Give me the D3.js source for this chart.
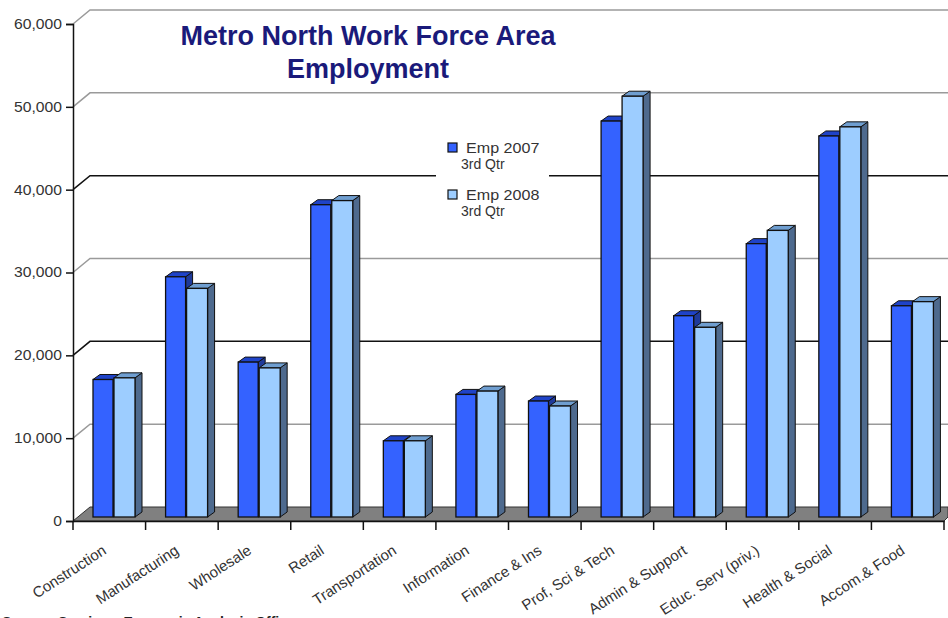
<!DOCTYPE html>
<html>
<head>
<meta charset="utf-8">
<script src="https://cdn.jsdelivr.net/npm/d3@7"></script>
<style>
  body { margin: 0; background: #fff; }
  svg { display: block; font-family: Arial, "Liberation Sans", sans-serif; }
</style>
</head>
<body>
<div class="chart"></div>
<script>
var categories = ["Construction", "Manufacturing", "Wholesale", "Retail", "Transportation", "Information",
  "Finance & Ins", "Prof, Sci & Tech", "Admin & Support", "Educ. Serv (priv.)", "Health & Social", "Accom.& Food"];
var emp2007 = [16600, 29000, 18700, 37700, 9200, 14800, 14000, 47800, 24300, 33000, 46000, 25500];
var emp2008 = [16800, 27600, 18000, 38200, 9200, 15200, 13400, 50800, 22900, 34600, 47100, 26000];
var seriesNames = [["Emp 2007", "3rd Qtr"], ["Emp 2008", "3rd Qtr"]];
var yTicks = [0, 10000, 20000, 30000, 40000, 50000, 60000];

var svgWidth = 948;
var svgHeight = 618;
var depthX = 17, depthY = -14;   // back wall offset
var barDX = 7, barDY = -5;       // bar 3d depth
var shiftY = -4;                 // bars sit a bit into the floor

var svg = d3.select(".chart").append("svg")
  .attr("width", svgWidth)
  .attr("height", svgHeight);

var x = d3.scaleBand().domain(categories).range([73, 944]);
var y = d3.scaleLinear().domain([0, 60000]).range([521, 24]);
var fmt = d3.format(",");

// back wall gridlines
yTicks.forEach(function(t) {
  if (t === 0) return;
  var col = (t === 40000 || t === 20000) ? "#111" : "#9a9a9a";
  svg.append("path")
    .attr("d", "M73," + y(t) + "L" + (73 + depthX) + "," + (y(t) + depthY) + "L948," + (y(t) + depthY))
    .attr("fill", "none")
    .attr("stroke", col)
    .attr("stroke-width", 1.5);
});

// floor
svg.append("path")
  .attr("d", "M73,521L" + (73 + depthX) + "," + (521 + depthY) + "L948," + (521 + depthY) + "L948,517L944,521Z")
  .attr("fill", "#808080")
  .attr("stroke", "#333")
  .attr("stroke-width", 1);

// bars
var series = [
  { values: emp2007, front: "#3462ff", top: "#1f43c8", side: "#1f3a9a", off: 20, w: 20 },
  { values: emp2008, front: "#9dcdff", top: "#6f9ed0", side: "#4e6a8e", off: 41, w: 21 }
];

series.forEach(function(s) {
  var g = svg.append("g");
  categories.forEach(function(c, i) {
    var x0 = x(c) + s.off, x1 = x0 + s.w;
    var yb = y(0) + shiftY, yt = y(s.values[i]) + shiftY;
    g.append("path")
      .attr("d", "M" + x1 + "," + yt + "L" + (x1 + barDX) + "," + (yt + barDY) + "L" + (x1 + barDX) + "," + (yb + barDY) + "L" + x1 + "," + yb + "Z")
      .attr("fill", s.side).attr("stroke", "#111").attr("stroke-width", 1);
    g.append("path")
      .attr("d", "M" + x0 + "," + yt + "L" + (x0 + barDX) + "," + (yt + barDY) + "L" + (x1 + barDX) + "," + (yt + barDY) + "L" + x1 + "," + yt + "Z")
      .attr("fill", s.top).attr("stroke", "#111").attr("stroke-width", 1);
    g.append("rect")
      .attr("x", x0).attr("y", yt)
      .attr("width", s.w).attr("height", yb - yt)
      .attr("fill", s.front).attr("stroke", "#111").attr("stroke-width", 1.3);
  });
});

// y axis
var yAxis = d3.axisLeft(y).tickValues(yTicks).tickFormat(fmt).tickSize(7).tickPadding(4);
var yg = svg.append("g")
  .attr("transform", "translate(73,0)")
  .call(yAxis);
yg.select(".domain").attr("stroke", "#111").attr("stroke-width", 1.5);
yg.selectAll("line").attr("stroke", "#111").attr("stroke-width", 1.5);
yg.selectAll("text").attr("font-size", 14).attr("fill", "#333")
  .attr("transform", "scale(1.12,1)").attr("x", -11 / 1.12);

// x axis
var xAxis = d3.axisBottom(x).tickSize(0).tickFormat("");
var xg = svg.append("g")
  .attr("transform", "translate(0,521)")
  .call(xAxis);
xg.select(".domain").attr("stroke", "#111").attr("stroke-width", 1.5);
xg.selectAll(".tick").remove();
var bounds = categories.map(function(c) { return x(c); }).concat([x.range()[1]]);
xg.selectAll(".bt").data(bounds).enter().append("line")
  .attr("x1", function(d) { return d; }).attr("x2", function(d) { return d; })
  .attr("y1", 0).attr("y2", 9)
  .attr("stroke", "#111").attr("stroke-width", 1.5);

svg.append("g").selectAll("text").data(categories).enter().append("text")
  .attr("transform", function(d) {
    return "translate(" + (x(d) + x.bandwidth() / 2 - 2) + ",553) rotate(-33)";
  })
  .attr("text-anchor", "end")
  .attr("font-size", 15)
  .attr("fill", "#333")
  .text(function(d) { return d; });

// title
svg.append("text")
  .attr("x", 368).attr("y", 45)
  .attr("text-anchor", "middle")
  .attr("font-size", 27).attr("font-weight", "bold")
  .attr("fill", "#1a1a7a")
  .text("Metro North Work Force Area");
svg.append("text")
  .attr("x", 368).attr("y", 78)
  .attr("text-anchor", "middle")
  .attr("font-size", 27).attr("font-weight", "bold")
  .attr("fill", "#1a1a7a")
  .text("Employment");

// legend
var legend = svg.append("g").attr("transform", "translate(436,132)");
legend.append("rect").attr("x", 0).attr("y", 0).attr("width", 113).attr("height", 95)
  .attr("fill", "#fff");
series.forEach(function(s, i) {
  var lg = legend.append("g").attr("transform", "translate(0," + (i * 47) + ")");
  lg.append("rect").attr("x", 12).attr("y", 11).attr("width", 9).attr("height", 9)
    .attr("fill", s.front).attr("stroke", "#111").attr("stroke-width", 1.2);
  lg.append("text").attr("transform", "translate(30,21) scale(1.15,1)")
    .attr("font-size", 14).attr("fill", "#333")
    .text(seriesNames[i][0]);
  lg.append("text").attr("x", 25).attr("y", 37).attr("font-size", 14).attr("fill", "#333")
    .text(seriesNames[i][1]);
});

// source note (cut off at bottom, as in the original)
svg.append("text")
  .attr("x", 2).attr("y", 627)
  .attr("font-size", 14).attr("font-weight", "bold")
  .attr("fill", "#222")
  .text("Source: Services, Economic Analysis Office");
</script>
</body>
</html>
